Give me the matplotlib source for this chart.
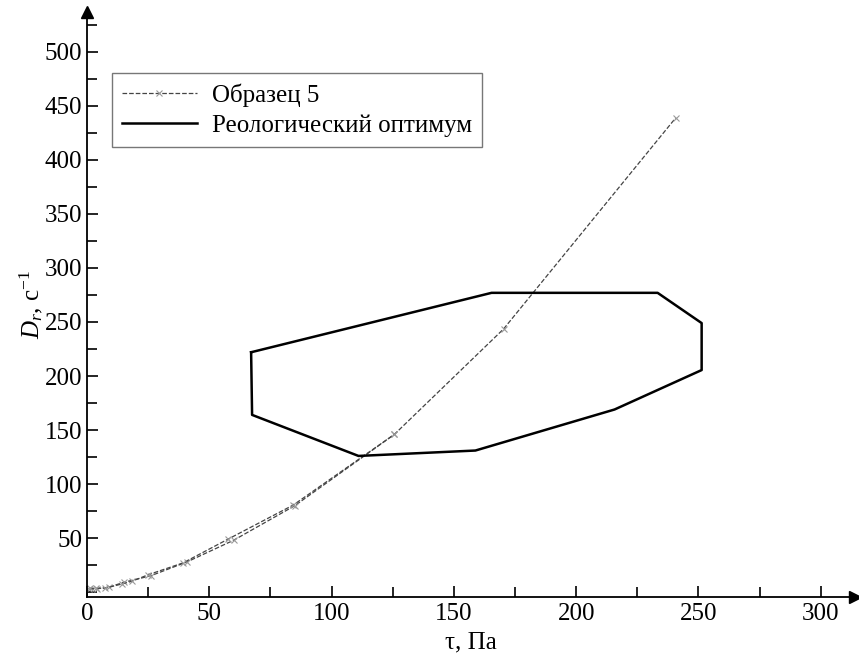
import matplotlib
matplotlib.use("Agg")
import matplotlib.pyplot as plt
from matplotlib.ticker import MultipleLocator

plt.rcParams['font.family'] = 'serif'
plt.rcParams['font.serif'] = ['Liberation Serif', 'Times New Roman', 'DejaVu Serif']
plt.rcParams['mathtext.fontset'] = 'custom'
plt.rcParams['mathtext.rm'] = 'Liberation Serif'
plt.rcParams['mathtext.it'] = 'Liberation Serif:italic'

# Sample 5 curve (up and down branches)
tau_up = [1.2, 3.5, 7.4, 14.3, 18.4, 25.0, 39.3, 57.7, 84.3, 125.7, 170.3, 240.7]
d_up = [3.5, 3.5, 3.5, 7.5, 10.0, 16.0, 27.0, 49.0, 80.5, 146.0, 243.5, 439.0]
tau_down = [1.0, 4.0, 9.0, 15.0, 26.0, 41.0, 60.0, 85.0, 125.7]
d_down = [2.5, 3.0, 4.5, 9.0, 15.0, 28.0, 48.0, 80.0, 146.0]

# Rheological optimum polygon
opt_tau = [67.1, 67.5, 111.0, 158.8, 215.7, 251.3, 251.3, 233.3, 165.4, 67.1]
opt_d = [222.0, 164.0, 126.0, 131.0, 169.0, 205.5, 249.0, 277.0, 277.0, 222.0]

fig = plt.figure(figsize=(8.59, 6.60), dpi=100)
ax = fig.add_axes([87/859, (660-597)/660, (855-87)/859, (597-12)/660])

ax.plot(tau_down, d_down, linestyle='--', color='#444444', linewidth=0.9,
        marker='x', markersize=4, markeredgecolor='#999999', markeredgewidth=0.8)
ax.plot(tau_up, d_up, linestyle='--', color='#444444', linewidth=0.9,
        marker='x', markersize=4, markeredgecolor='#999999', markeredgewidth=0.8,
        label='Образец 5')
ax.plot(opt_tau, opt_d, color='black', linewidth=1.8, label='Реологический оптимум')

ax.set_xlim(0, 314)
ax.set_ylim(-4.6, 537)

for s in ['top', 'right']:
    ax.spines[s].set_visible(False)
for s in ['left', 'bottom']:
    ax.spines[s].set_linewidth(1.3)

ax.plot(1, 0, marker='>', color='black', markersize=9, transform=ax.transAxes, clip_on=False)
ax.plot(0, 1, marker='^', color='black', markersize=9, transform=ax.transAxes, clip_on=False)

ax.set_xticks([0, 50, 100, 150, 200, 250, 300])
ax.xaxis.set_minor_locator(MultipleLocator(25))
ax.set_yticks([50, 100, 150, 200, 250, 300, 350, 400, 450, 500])
ax.yaxis.set_minor_locator(MultipleLocator(25))
ax.tick_params(which='both', direction='in', labelsize=18, width=1.2)
ax.tick_params(which='major', length=8)
ax.tick_params(which='minor', length=7)
ax.tick_params(axis='x', pad=4)

ax.set_xlabel('τ, Па', fontsize=18, labelpad=5)
ax.set_ylabel(r'$D_r$, с$^{-1}$', fontsize=18, labelpad=0)

leg = ax.legend(loc='upper left', bbox_to_anchor=(0.032, 0.895), fontsize=18,
                frameon=True, fancybox=False, edgecolor='#555555',
                borderpad=0.4, handlelength=3.0, labelspacing=0.3, borderaxespad=0,
                handletextpad=0.6)
leg.get_frame().set_linewidth(1.0)

fig.savefig('out.png', dpi=100)
